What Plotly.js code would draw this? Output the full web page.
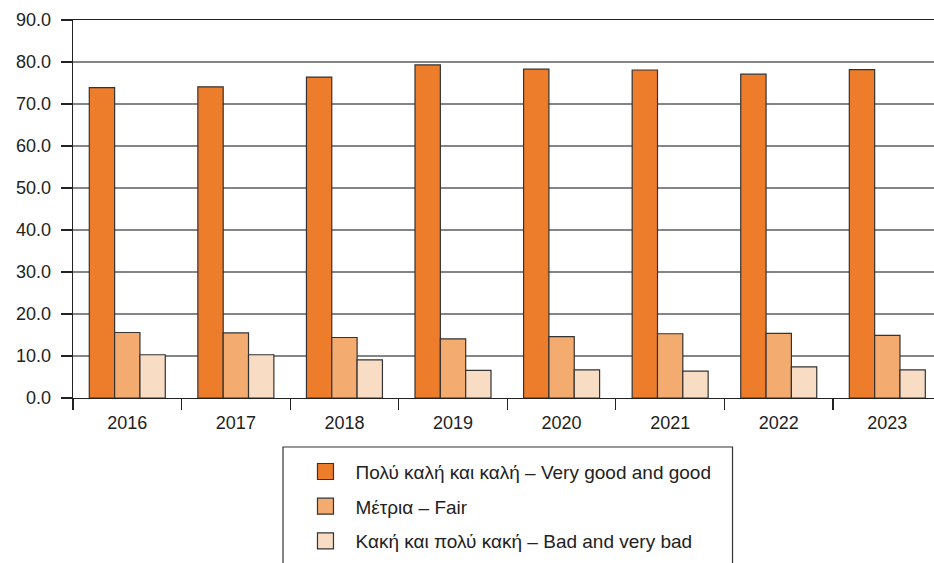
<!DOCTYPE html>
<html>
<head>
<meta charset="utf-8">
<script src="https://cdn.plot.ly/plotly-3.0.1.min.js"></script>
<style>html,body{margin:0;padding:0;background:#fff;}#chart{width:934px;height:563px;}</style>
</head>
<body>
<div id="chart"></div>
<script>
const years = ['2016', '2017', '2018', '2019', '2020', '2021', '2022', '2023'];
const veryGoodGood = [73.9, 74.1, 76.4, 79.3, 78.3, 78.1, 77.1, 78.2];
const fair = [15.6, 15.5, 14.4, 14.1, 14.6, 15.3, 15.4, 14.9];
const badVeryBad = [10.3, 10.3, 9.1, 6.6, 6.7, 6.4, 7.4, 6.7];
const seriesNames = [
  'Πολύ καλή και καλή – Very good and good',
  'Μέτρια – Fair',
  'Κακή και πολύ κακή – Bad and very bad'
];
const seriesColors = ['#EE7D2B', '#F4AB6F', '#F8DDC4'];
const seriesValues = [veryGoodGood, fair, badVeryBad];

const traces = [];
seriesValues.forEach((vals, i) => {
  traces.push({
    type: 'bar', x: years, y: vals, name: seriesNames[i],
    marker: {color: seriesColors[i], line: {color: '#333333', width: 1.2}},
    showlegend: false, hoverinfo: 'x+y'
  });
});
// legend entries (larger square symbols)
seriesValues.forEach((vals, i) => {
  traces.push({
    type: 'scatter', mode: 'markers', x: [years[0]], y: [null], name: seriesNames[i],
    legendgroup: 'g' + i,
    marker: {symbol: 'square', size: 16, color: seriesColors[i], line: {color: '#333333', width: 1.2}},
    showlegend: true, hoverinfo: 'skip'
  });
});

const layout = {
  width: 934, height: 563,
  margin: {l: 73, r: 0, t: 20, b: 165},
  paper_bgcolor: '#ffffff', plot_bgcolor: '#ffffff',
  font: {family: 'Liberation Sans, Arial, sans-serif', size: 18, color: '#222222'},
  barmode: 'group', bargap: 0.3, bargroupgap: 0,
  xaxis: {
    type: 'category', range: [-0.5, 7.43], fixedrange: true, automargin: false,
    showgrid: false, showline: true, linecolor: '#222222', linewidth: 1.3, mirror: true,
    ticks: 'outside', tickson: 'boundaries', ticklen: 11, tickcolor: '#222222', tickwidth: 1.2,
    ticklabelstandoff: 8,
    tickfont: {size: 18, color: '#222222'}
  },
  yaxis: {
    range: [0, 90], dtick: 10, tickformat: '.1f', fixedrange: true, automargin: false,
    showgrid: true, gridcolor: '#858585', gridwidth: 1.4, zeroline: false,
    showline: true, linecolor: '#222222', linewidth: 1.3,
    ticks: 'outside', ticklen: 11, tickcolor: '#222222', tickwidth: 1.2,
    ticklabelstandoff: 6,
    tickfont: {size: 18, color: '#222222'}
  },
  showlegend: true,
  legend: {
    x: 0.2584, xanchor: 'left', xref: 'paper',
    y: 0.1960, yanchor: 'top', yref: 'container',
    bgcolor: 'rgba(0,0,0,0)', borderwidth: 0, itemwidth: 50,
    traceorder: 'grouped', tracegroupgap: 7,
    font: {size: 19, color: '#222222'}
  },
  shapes: [{
    type: 'rect', xref: 'paper', yref: 'paper',
    x0: 0.2439, x1: 0.7660, y0: -0.1296, y1: -0.6,
    line: {color: '#333333', width: 1.2}, fillcolor: 'rgba(0,0,0,0)', layer: 'below'
  }]
};

Plotly.newPlot('chart', traces, layout, {displayModeBar: false, staticPlot: true});
</script>
</body>
</html>
